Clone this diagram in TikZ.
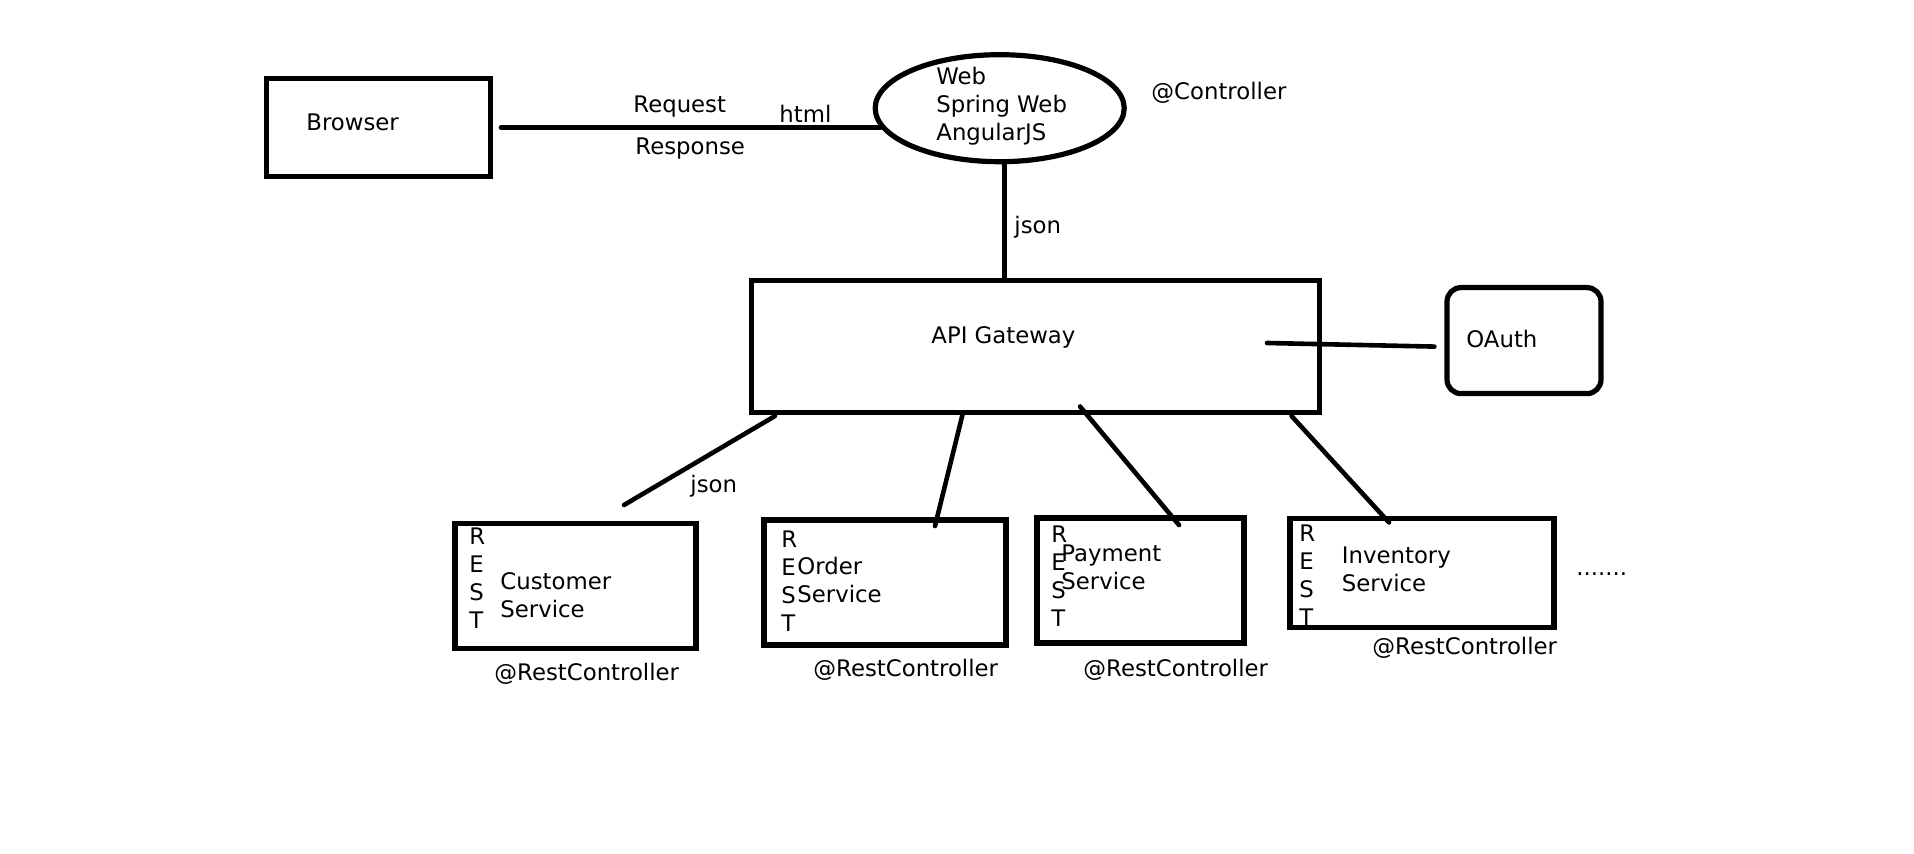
\documentclass[tikz,border=0pt]{standalone}
\usepackage{fontspec}
\setmainfont{DejaVu Sans}
\usetikzlibrary{shapes.geometric}
\begin{document}
\begin{tikzpicture}[x=0.5pt,y=-0.5pt,
  shapebox/.style={draw,line width=2.6pt,inner sep=0pt},
  link/.style={line width=2.3pt,line cap=round},
  lbl/.style={anchor=west,inner sep=0pt,font=\fontsize{11.4}{14}\selectfont,align=left},
]
\fill[white] (0,0) rectangle (1914,854);
\useasboundingbox (0,0) rectangle (1914,854);

% shapes
\node[shapebox, minimum width=112pt, minimum height=49pt] (browser) at (378.4,127.5) {};
\node[shapebox, ellipse, minimum width=124.5pt, minimum height=53.5pt] (web) at (999.7,108.2) {};
\node[shapebox, minimum width=284pt, minimum height=66pt] (gw) at (1035.75,346.65) {};
\node[shapebox, rounded corners=7pt, minimum width=77pt, minimum height=53pt] (oauth) at (1524,340.6) {};
\node[shapebox, minimum width=120.5pt, minimum height=62.5pt] (cust) at (575.5,586) {};
\node[shapebox, minimum width=121pt, minimum height=62.5pt] (order) at (885,582.5) {};
\node[shapebox, minimum width=103.5pt, minimum height=62.5pt] (pay) at (1140.5,580.5) {};
\node[shapebox, minimum width=132pt, minimum height=54.5pt] (inv) at (1422,573.15) {};

% connector ends
\coordinate (oa) at (1267,343);
\coordinate (g1) at (775,416);
\coordinate (c1) at (624,505);
\coordinate (g2) at (963,412.6);
\coordinate (c2) at (935,526);
\coordinate (g3) at (1080,406.5);
\coordinate (c3) at (1179,525);
\coordinate (g4) at (1291.5,416);
\coordinate (c4) at (1389,522.5);

% connectors
\draw[link] ([xshift=4pt]browser.east) -- ([xshift=4pt]browser.east -| web.west);
\draw[link] ([xshift=2.5pt]web.south) -- ([xshift=2.5pt]web.south |- gw.north);
\draw[link] (oa) -- ([xshift=-5pt,yshift=-3pt]oauth.west);
\draw[link] (g1) -- (c1);
\draw[link] (g2) -- (c2);
\draw[link] (g3) -- (c3);
\draw[link] (g4) -- (c4);

% texts
\node[lbl] (tbrowser) at (306,122) {Browser};
\node[lbl] (treq) at (633,107) {Request};
\node[lbl] (tresp) at (635,149) {Response};
\node[lbl] (thtml) at (779,114) {html};
\node[lbl] (tweb) at (936,106) {Web\\Spring Web\\AngularJS};
\node[lbl] (tctrl) at (1151,93) {@Controller};
\node[lbl] (tjson1) at (1014,227) {json};
\node[lbl] (tgw) at (931,337) {API Gateway};
\node[lbl] (toauth) at (1466,339) {OAuth};
\node[lbl] (tjson2) at (690,486) {json};
\node[lbl] (r1) at (469,578) {R\\E\\S\\T};
\node[lbl] (t1) at (500,595) {Customer\\Service};
\node[lbl] (rc1) at (494,674) {@RestController};
\node[lbl] (r2) at (781,581) {R\\E\\S\\T};
\node[lbl] (t2) at (797,580) {Order\\Service};
\node[lbl] (rc2) at (813,670) {@RestController};
\node[lbl] (r3) at (1051,576) {R\\E\\S\\T};
\node[lbl] (t3) at (1061,567) {Payment\\Service};
\node[lbl] (rc3) at (1083,670) {@RestController};
\node[lbl] (r4) at (1299,575) {R\\E\\S\\T};
\node[lbl] (t4) at (1341.5,569.5) {Inventory\\Service};
\node[lbl] (rc4) at (1372,648) {@RestController};
\node[lbl,anchor=base west] (dots) at (1576,575) {.......};
\end{tikzpicture}
\end{document}
